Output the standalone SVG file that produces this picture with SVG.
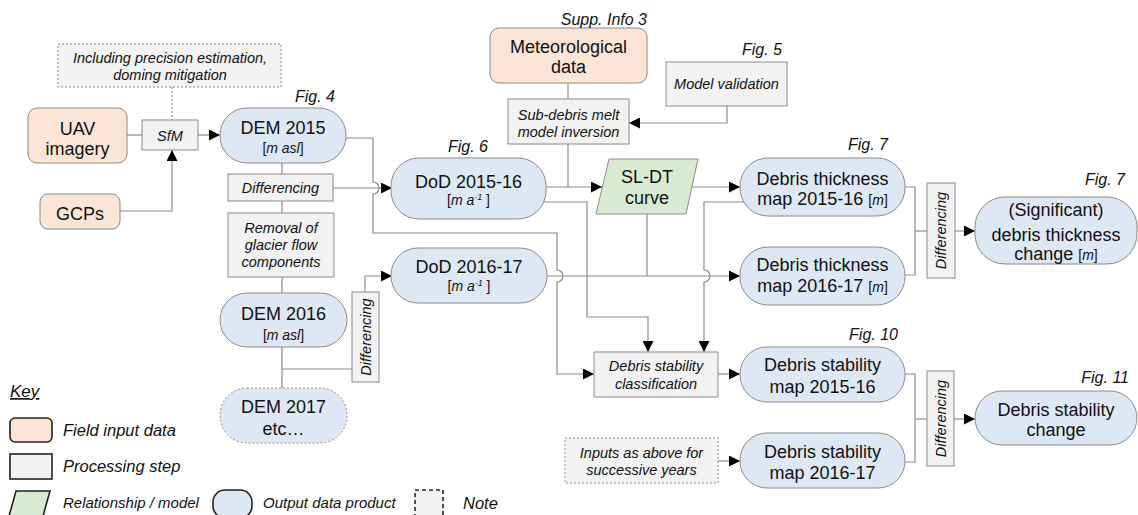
<svg xmlns="http://www.w3.org/2000/svg" width="1138" height="515" viewBox="0 0 1138 515">
<style>
.field{fill:#fbe5d6;stroke:#8a8a8a;stroke-width:1}
.proc{fill:#f2f2f2;stroke:#8a8a8a;stroke-width:1}
.out{fill:#dee8f4;stroke:#8a8a8a;stroke-width:1}
.model{fill:#d9ead3;stroke:#8a8a8a;stroke-width:1}
.note{fill:#f2f2f2;stroke:#8a8a8a;stroke-width:1;stroke-dasharray:2 2}
.dotted{stroke-dasharray:2 2}
text{font-family:"Liberation Sans",Arial,sans-serif;fill:#111;text-anchor:middle}
.big{font-size:18px}
.it{font-style:italic;font-size:14.5px}
.sm{font-size:14px}
.fig{font-style:italic;font-size:16px;text-anchor:end}
.key{font-style:italic;font-size:16.5px;text-anchor:start}
.key2{font-style:italic;font-size:15px;text-anchor:start}
.conn path{fill:none;stroke:#8c8c8c;stroke-width:1.2}
.conn .arr{marker-end:url(#ah)}
.k{stroke:#222;stroke-width:1.6}
</style>
<defs>
<marker id="ah" markerUnits="userSpaceOnUse" markerWidth="11" markerHeight="11" refX="10" refY="5" orient="auto" viewBox="0 0 10 10">
<path d="M0,0 L10,5 L0,10 z" fill="#000"/>
</marker>
</defs>
<rect width="1138" height="515" fill="#fff"/>

<g class="conn">
<path d="M127,135 H142"/>
<path class="arr" d="M198,135 H220"/>
<path class="arr" d="M120,211 H172 V150"/>
<path class="dotted" d="M172,87 V120"/>
<path d="M282,163 V174"/>
<path class="arr" d="M333,188 H392"/>
<path class="arr" d="M346,138 H373 V182 A6,6 0 0 1 373,194 V233 H557 V270 A6,6 0 0 1 557,282 V374 H594"/>
<path d="M282,201 V213"/>
<path d="M282,277 V293"/>
<path d="M282,347 V388"/>
<path d="M282,369 H352"/>
<path class="arr" d="M365,292 V276 H392"/>
<path d="M568,83 V99"/>
<path class="arr" d="M727,106 V123 H629"/>
<path d="M568,144 V187"/>
<path class="arr" d="M546,187 H602"/>
<path class="arr" d="M692,187 H740"/>
<path class="arr" d="M544,202 H587 V317 H648 V352"/>
<path class="arr" d="M744,202 H704 V270 A6,6 0 0 1 704,282 V352"/>
<path class="arr" d="M546,276 H740"/>
<path d="M647,214 V276"/>
<path class="arr" d="M718,374 H740"/>
<path class="arr" d="M718,461 H740"/>
<path d="M905,187 H915 V275 H905"/>
<path d="M915,231 H927"/>
<path class="arr" d="M955,231 H975"/>
<path d="M905,374 H915 V462 H905"/>
<path d="M915,419 H927"/>
<path class="arr" d="M954,419 H975"/>
</g>

<g id="note-precision">
<rect class="note" x="58" y="44" width="223" height="43"/>
<text class="it" x="170" y="63">Including precision estimation,</text>
<text class="it" x="170" y="80">doming mitigation</text>
</g>

<g id="uav">
<rect class="field" x="28" y="108" width="99" height="55" rx="9"/>
<text class="big" x="77.5" y="135">UAV</text>
<text class="big" x="77.5" y="155">imagery</text>
</g>

<g id="gcps">
<rect class="field" x="40" y="194" width="80" height="35" rx="8"/>
<text class="big" x="80" y="220">GCPs</text>
</g>

<g id="sfm">
<rect class="proc" x="142" y="120" width="56" height="30"/>
<text class="it" x="170" y="141">SfM</text>
</g>

<g id="dem2015">
<rect class="out" x="220" y="108" width="126" height="55" rx="27" ry="27"/>
<text class="big" x="283" y="134">DEM 2015</text>
<text class="sm" x="283" y="153">[<tspan font-style="italic">m asl</tspan>]</text>
<text class="fig" x="335" y="102">Fig. 4</text>
</g>

<g id="diff1">
<rect class="proc" x="228" y="174" width="105" height="27"/>
<text class="it" x="280.5" y="193">Differencing</text>
</g>

<g id="removal">
<rect class="proc" x="228" y="213" width="106" height="64"/>
<text class="it" x="281" y="233">Removal of</text>
<text class="it" x="281" y="250">glacier flow</text>
<text class="it" x="281" y="267">components</text>
</g>

<g id="dem2016">
<rect class="out" x="220" y="293" width="127" height="54" rx="27" ry="27"/>
<text class="big" x="283.5" y="320">DEM 2016</text>
<text class="sm" x="283.5" y="340">[<tspan font-style="italic">m asl</tspan>]</text>
</g>

<g id="dem2017">
<rect class="out dotted" x="220" y="388" width="127" height="55" rx="27" ry="27"/>
<text class="big" x="283.5" y="413">DEM 2017</text>
<text class="big" x="283.5" y="435">etc…</text>
</g>

<g id="diff2">
<rect class="proc" x="352" y="292" width="27" height="90"/>
<text class="it" transform="translate(370.5,337) rotate(-90)" x="0" y="0">Differencing</text>
</g>

<g id="dod1516">
<rect class="out" x="391" y="158" width="155" height="61" rx="28" ry="28"/>
<text class="big" x="468.5" y="188">DoD 2015-16</text>
<text class="sm" x="468.5" y="205">[<tspan font-style="italic">m a<tspan dy="-5" font-size="9">-1</tspan></tspan><tspan dy="5"> ]</tspan></text>
<text class="fig" x="488" y="152">Fig. 6</text>
</g>

<g id="dod1617">
<rect class="out" x="391" y="248" width="156" height="55" rx="27" ry="27"/>
<text class="big" x="469" y="273">DoD 2016-17</text>
<text class="sm" x="469" y="291">[<tspan font-style="italic">m a<tspan dy="-5" font-size="9">-1</tspan></tspan><tspan dy="5"> ]</tspan></text>
</g>

<g id="meteo">
<rect class="field" x="490" y="28" width="157" height="55" rx="9"/>
<text class="big" x="568.5" y="53">Meteorological</text>
<text class="big" x="568.5" y="73">data</text>
<text class="fig" x="647" y="25">Supp. Info 3</text>
</g>

<g id="subdebris">
<rect class="proc" x="508" y="99" width="121" height="45"/>
<text class="it" x="568.5" y="120">Sub-debris melt</text>
<text class="it" x="568.5" y="137">model inversion</text>
</g>

<g id="validation">
<rect class="proc" x="666" y="62" width="121" height="44"/>
<text class="it" x="726.5" y="89">Model validation</text>
<text class="fig" x="782" y="55">Fig. 5</text>
</g>

<g id="sldt">
<polygon class="model" points="609,159 698,159 686,214 596,214"/>
<text class="big" x="647" y="183">SL-DT</text>
<text class="big" x="647" y="204">curve</text>
</g>

<g id="classification">
<rect class="proc" x="594" y="352" width="124" height="45"/>
<text class="it" x="656" y="371">Debris stability</text>
<text class="it" x="656" y="389">classification</text>
</g>

<g id="note-inputs">
<rect class="note" x="565" y="438" width="153" height="45"/>
<text class="it" x="641.5" y="458">Inputs as above for</text>
<text class="it" x="641.5" y="475">successive years</text>
</g>

<g id="thick1516">
<rect class="out" x="740" y="158" width="165" height="58" rx="28" ry="28"/>
<text class="big" x="822.5" y="185">Debris thickness</text>
<text class="big" x="822.5" y="205">map 2015-16 <tspan class="sm">[<tspan font-style="italic">m</tspan>]</tspan></text>
<text class="fig" x="888" y="150">Fig. 7</text>
</g>

<g id="thick1617">
<rect class="out" x="740" y="247" width="165" height="58" rx="28" ry="28"/>
<text class="big" x="822.5" y="271">Debris thickness</text>
<text class="big" x="822.5" y="292">map 2016-17 <tspan class="sm">[<tspan font-style="italic">m</tspan>]</tspan></text>
</g>

<g id="diff3">
<rect class="proc" x="927" y="183" width="28" height="95"/>
<text class="it" transform="translate(946,230.5) rotate(-90)" x="0" y="0">Differencing</text>
</g>

<g id="thickchange">
<rect class="out" x="975" y="197" width="162" height="67" rx="30" ry="30"/>
<text class="big" x="1056" y="216">(Significant)</text>
<text class="big" x="1056" y="241">debris thickness</text>
<text class="big" x="1056" y="260">change <tspan class="sm">[<tspan font-style="italic">m</tspan>]</tspan></text>
<text class="fig" x="1125" y="185">Fig. 7</text>
</g>

<g id="stab1516">
<rect class="out" x="740" y="347" width="165" height="55" rx="27" ry="27"/>
<text class="big" x="822.5" y="371">Debris stability</text>
<text class="big" x="822.5" y="393">map 2015-16</text>
<text class="fig" x="898" y="340">Fig. 10</text>
</g>

<g id="stab1617">
<rect class="out" x="740" y="433" width="165" height="55" rx="27" ry="27"/>
<text class="big" x="822.5" y="458">Debris stability</text>
<text class="big" x="822.5" y="479">map 2016-17</text>
</g>

<g id="diff4">
<rect class="proc" x="927" y="371" width="27" height="95"/>
<text class="it" transform="translate(945.5,418.5) rotate(-90)" x="0" y="0">Differencing</text>
</g>

<g id="stabchange">
<rect class="out" x="975" y="391" width="162" height="54" rx="27" ry="27"/>
<text class="big" x="1056" y="416">Debris stability</text>
<text class="big" x="1056" y="436">change</text>
<text class="fig" x="1129" y="383">Fig. 11</text>
</g>

<g id="legend">
<text x="10" y="397" style="font-style:italic;font-size:17px;text-anchor:start;text-decoration:underline">Key</text>
<rect class="field k" x="10" y="418" width="42" height="24" rx="5"/>
<text class="key" x="63" y="436">Field input data</text>
<rect class="proc k" x="10" y="454" width="42" height="25"/>
<text class="key" x="63" y="472">Processing step</text>
<polygon class="model k" points="16,491 50,491 43,516 9,516"/>
<text class="key2" x="63" y="508">Relationship / model</text>
<rect class="out k" x="213" y="490" width="39" height="28" rx="12" ry="12"/>
<text class="key2" x="263" y="508">Output data product</text>
<rect class="proc k" x="415" y="490" width="28" height="28" style="stroke-dasharray:4 3"/>
<text class="key" x="463" y="509">Note</text>
</g>
</svg>
